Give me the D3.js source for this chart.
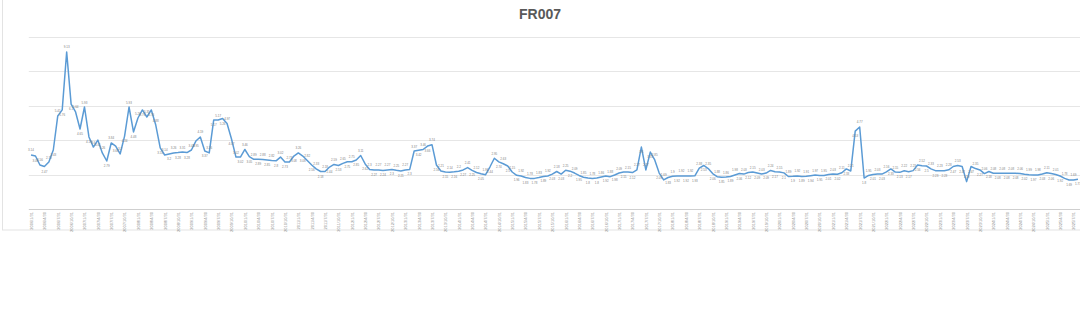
<html>
<head>
<meta charset="utf-8">
<script src="https://d3js.org/d3.v7.min.js"></script>
<style>
  body { margin: 0; background: #fff; }
  .line { fill: none; stroke: #5b9bd5; stroke-width: 1.5px; stroke-linejoin: round; }
  .grid line { stroke: #d9d9d9; stroke-width: 1px; }
  text { font-family: "Liberation Sans", "DejaVu Sans", sans-serif; }
</style>
</head>
<body>
<script>
// FR007 readings, one per month
var rates = [
  3.14, 3.08, 2.56, 2.47, 2.73, 3.43, 5.41, 5.76, 9.13, 6.10,
  5.64, 4.65, 5.93, 4.19, 3.60, 4.01, 3.26, 2.79, 3.84, 3.66,
  3.20, 4.24, 5.93, 4.48, 5.29, 5.76, 5.35, 5.76, 4.88, 3.55,
  3.14, 3.20, 3.26, 3.28, 3.31, 3.28, 3.43, 3.95, 4.19, 3.37,
  3.26, 5.17, 5.17, 5.26, 4.97, 4.07, 3.02, 3.02, 3.46, 3.05,
  2.89, 2.89, 2.88, 2.85, 2.82, 2.80, 3.02, 2.73, 2.73, 3.08,
  3.26, 3.08, 2.82, 2.56, 2.33, 2.18, 2.18, 2.44, 2.59, 2.53,
  2.65, 2.75, 2.75, 2.85, 3.11, 2.62, 2.30, 2.27, 2.27, 2.24,
  2.27, 2.30, 2.25, 2.21, 2.27, 2.30, 3.37, 3.42, 3.46, 3.66,
  3.74, 2.56, 2.21, 2.15, 2.14, 2.16, 2.20, 2.27, 2.41, 2.25,
  2.12, 2.05, 1.99, 2.44, 2.95, 2.74, 2.63, 2.50, 2.15, 1.96,
  1.92, 1.83, 1.78, 1.78, 1.83, 1.89, 1.92, 2.03, 2.18, 2.03,
  2.25, 2.20, 2.09, 1.95, 1.85, 1.80, 1.78, 1.80, 1.86, 1.92,
  1.88, 1.98, 2.09, 2.15, 2.15, 2.12, 2.27, 3.60, 2.27, 3.31,
  2.85, 2.09, 1.69, 1.83, 1.90, 1.92, 1.92, 1.92, 1.92, 1.93,
  2.38, 2.53, 2.35, 2.06, 1.88, 1.85, 1.86, 1.89, 1.98, 2.06,
  2.03, 2.12, 2.15, 2.09, 2.03, 2.09, 2.24, 2.17, 2.15, 2.10,
  1.89, 1.90, 1.92, 1.89, 1.91, 1.94, 1.97, 1.95, 1.95, 2.01,
  2.03, 2.02, 2.11, 2.33, 2.21, 4.53, 4.77, 1.80, 1.95, 2.01,
  2.03, 2.03, 2.16, 2.33, 2.15, 2.13, 2.22, 2.17, 2.23, 2.56,
  2.52, 2.50, 2.33, 2.23, 2.23, 2.23, 2.28, 2.47, 2.53, 2.47,
  1.59, 2.47, 2.35, 2.27, 2.06, 2.18, 2.08, 2.08, 2.08, 2.08,
  2.08, 2.08, 2.06, 2.02, 1.99, 1.97, 1.98, 2.03, 2.11, 2.06,
  2.01, 1.92, 1.78, 1.69, 1.69, 1.73
];

// quarterly tick labels (every 3rd month)
var tickLabels = [];
var years = d3.range(2006, 2026);
var quarterEnds = ["/1/31", "/4/30", "/7/31", "/10/31"];
years.forEach(function(y) {
  quarterEnds.forEach(function(q) { tickLabels.push(y + q); });
});
tickLabels = tickLabels.slice(0, 79);

var yTicks = [0, 2, 4, 6, 8, 10];

var width = 1080, height = 331;

var svg = d3.select("body").append("svg")
  .attr("width", width)
  .attr("height", height);

// chart frame
svg.append("rect")
  .attr("x", 2.5).attr("y", -1)
  .attr("width", width - 2).attr("height", 231)
  .attr("fill", "#fff")
  .attr("stroke", "#e3e3e3");

svg.append("text")
  .attr("x", 540).attr("y", 19)
  .attr("text-anchor", "middle")
  .style("font-size", "14px")
  .style("font-weight", "bold")
  .style("fill", "#595959")
  .text("FR007");

var x = d3.scalePoint()
  .domain(d3.range(rates.length))
  .range([28.8, 1080.2])
  .padding(0.5);

var y = d3.scaleLinear().domain([0, 10]).range([209, 37]);

// gridlines
svg.append("g").attr("class", "grid")
  .selectAll("line").data(yTicks).enter().append("line")
  .attr("x1", 28.8).attr("x2", 1080)
  .attr("y1", function(d) { return Math.round(y(d)) + 0.5; })
  .attr("y2", function(d) { return Math.round(y(d)) + 0.5; })
  .style("stroke", function(d) { return d === 0 ? "#cfcfcf" : "#e6e6e6"; });

// x labels
var xAxis = d3.axisBottom(x)
  .tickValues(d3.range(0, rates.length, 3))
  .tickSize(0)
  .tickFormat(function(d) { return tickLabels[d / 3] || ""; });

var gx = svg.append("g")
  .attr("transform", "translate(0," + y(0) + ")")
  .call(xAxis);
gx.select(".domain").remove();
gx.selectAll("text")
  .attr("transform", "rotate(-90)")
  .attr("x", -3).attr("y", 0).attr("dy", "0.35em")
  .style("text-anchor", "end")
  .style("font-size", "4px")
  .style("fill", "#8c8c8c");

var valueline = d3.line()
  .x(function(d, i) { return x(i); })
  .y(function(d) { return y(d); });

svg.append("path")
  .datum(rates)
  .attr("class", "line")
  .attr("d", valueline);

// data labels, alternating above / below the line
svg.append("g").selectAll("text").data(rates).enter().append("text")
  .attr("x", function(d, i) { return x(i); })
  .attr("y", function(d, i) { return i % 2 ? y(d) + 6 : y(d) - 3.5; })
  .attr("text-anchor", "middle")
  .style("font-size", "3px")
  .style("fill", "#7f7f7f")
  .text(function(d) { return d; });
</script>
</body>
</html>
